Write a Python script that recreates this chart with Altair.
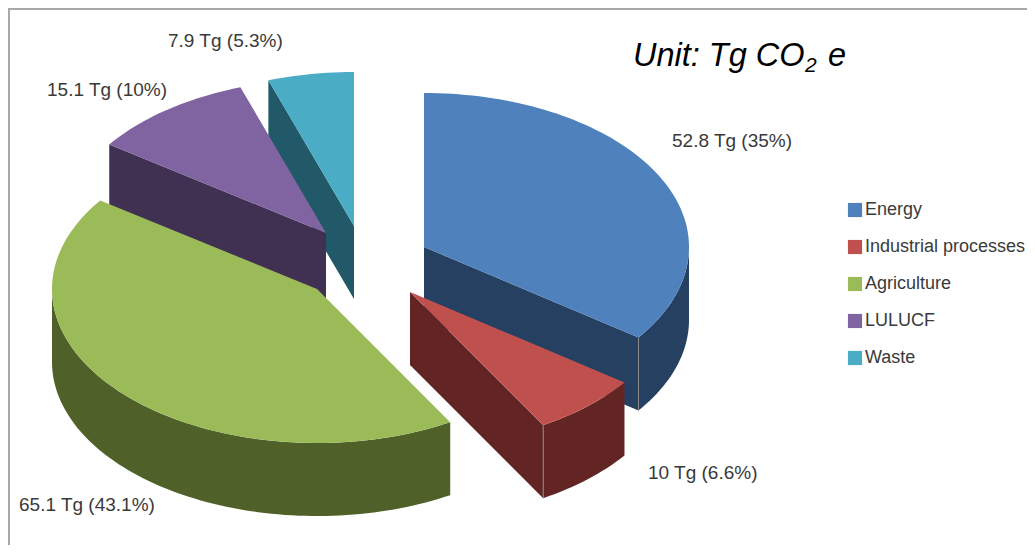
import math
import altair as alt
import pandas as pd

categories = ["Energy", "Industrial processes", "Agriculture", "LULUCF", "Waste"]
values_tg = [52.8, 10, 65.1, 15.1, 7.9]
percents = ["35", "6.6", "43.1", "10", "5.3"]
top_colors = ["#4F81BD", "#C0504D", "#9BBB59", "#8064A2", "#4BACC6"]
wall_colors = ["#254061", "#632523", "#4F6128", "#403152", "#215968"]

# exploded slice apexes, in page pixels
apex_x = [424, 410, 317, 326, 354]
apex_y = [247, 292, 289, 233, 226]
label_x = [672, 648, 19, 47, 168]
label_y = [141, 473, 505, 90, 41]

RX, RY, DEPTH = 265, 154, 73
W, H = 1019, 537
PAINT_ORDER = [4, 3, 2, 0, 1]
total = sum(values_tg)

starts, a = [], 0.0
for v in values_tg:
    starts.append(a)
    a += 360 * v / total
ends = starts[1:] + [360.0]


def rim(cx, cy, deg, drop=0):
    t = math.radians(deg)
    return cx + RX * math.sin(t), cy - RY * math.cos(t) + drop


def arc(cx, cy, d0, d1, drop=0):
    n = max(2, int(abs(d1 - d0) / 1.5) + 1)
    return [rim(cx, cy, d0 + (d1 - d0) * k / n, drop) for k in range(n + 1)]


tops, walls, edges = [], [], []


def add(rows, name, pts, **extra):
    for i, (x, y) in enumerate(pts):
        rows.append({"poly": name, "i": i, "x": x, "y": y, **extra})


for s in PAINT_ORDER:
    cx, cy, d0, d1 = apex_x[s], apex_y[s], starts[s], ends[s]
    col = wall_colors[s]
    add(tops, categories[s], [(cx, cy)] + arc(cx, cy, d0, d1) + [(cx, cy)], cat=categories[s])
    # radial cut face that looks at the viewer
    vis = d0 if d0 > 270 else d1
    if not (d0 < 270 < d1):
        ex, ey = rim(cx, cy, vis)
        add(walls, f"cut{s}", [(cx, cy), (ex, ey), (ex, ey + DEPTH), (cx, cy + DEPTH)], color=col)
        if d1 <= 180:
            edges.append({"x": ex, "y": ey, "y2": ey + DEPTH})
    # outer rim wall
    lo, hi = max(d0, 90), min(d1, 270)
    if lo < hi:
        add(walls, f"rim{s}", arc(cx, cy, lo, hi) + arc(cx, cy, hi, lo, DEPTH), color=col)

labels = pd.DataFrame({
    "x": label_x, "y": label_y,
    "t": [f"{v} Tg ({p}%)" for v, p in zip(values_tg, percents)],
})

X = alt.X("x:Q", axis=None, scale=alt.Scale(domain=[8, 8 + W], range=[0, W]))
Y = alt.Y("y:Q", axis=None, scale=alt.Scale(domain=[8, 8 + H], range=[0, H]))

wall_layer = alt.Chart(pd.DataFrame(walls)).mark_line(strokeOpacity=0).encode(
    x=X, y=Y, order="i:Q", detail="poly:N", fill=alt.Fill("color:N", scale=None))

top_layer = alt.Chart(pd.DataFrame(tops)).mark_line(strokeOpacity=0).encode(
    x=X, y=Y, order="i:Q", detail="poly:N",
    fill=alt.Fill("cat:N", scale=alt.Scale(domain=categories, range=top_colors),
                  legend=alt.Legend(title=None, orient="none", legendX=838, legendY=193,
                                    symbolType="square", symbolSize=200, symbolStrokeWidth=0,
                                    symbolOpacity=1, labelFontSize=18, labelFont="Liberation Sans",
                                    labelColor="#3a3a3a", labelOffset=1, rowPadding=19,
                                    labelLimit=300, symbolOffset=0)))

edge_layer = alt.Chart(pd.DataFrame(edges)).mark_rule(color="#8a8a8a", strokeWidth=1).encode(
    x=X, y=Y, y2="y2:Q")

label_layer = alt.Chart(labels).mark_text(
    align="left", baseline="middle", font="Liberation Sans", fontSize=19, color="#3a3a3a"
).encode(x=X, y=Y, text="t:N")

unit_df = pd.DataFrame({"x": [633, 805, 828], "y": [65.5, 72, 65.5],
                        "t": ["Unit: Tg CO", "2", "e"], "s": [32.5, 21, 32.5]})
unit_layer = alt.Chart(unit_df).mark_text(
    align="left", baseline="alphabetic", font="Liberation Sans", fontStyle="italic", color="#000000"
).encode(x=X, y=Y, text="t:N", size=alt.Size("s:Q", scale=None, legend=None))

frame_top = alt.Chart(pd.DataFrame({"a": [0]})).mark_rule(color="#a8a8a8", strokeWidth=2).encode(
    x=alt.value(0), x2=alt.value(W), y=alt.value(1))
frame_left = alt.Chart(pd.DataFrame({"a": [0]})).mark_rule(color="#a8a8a8", strokeWidth=2).encode(
    x=alt.value(1), y=alt.value(0), y2=alt.value(H))

chart = alt.layer(frame_top, frame_left, wall_layer, edge_layer, top_layer, label_layer, unit_layer).properties(
    width=W, height=H, padding=0, autosize=alt.AutoSizeParams(type="none"), background="white"
).configure_view(stroke=None)

chart.save("out.html", embed_options={"renderer": "svg", "actions": False})
